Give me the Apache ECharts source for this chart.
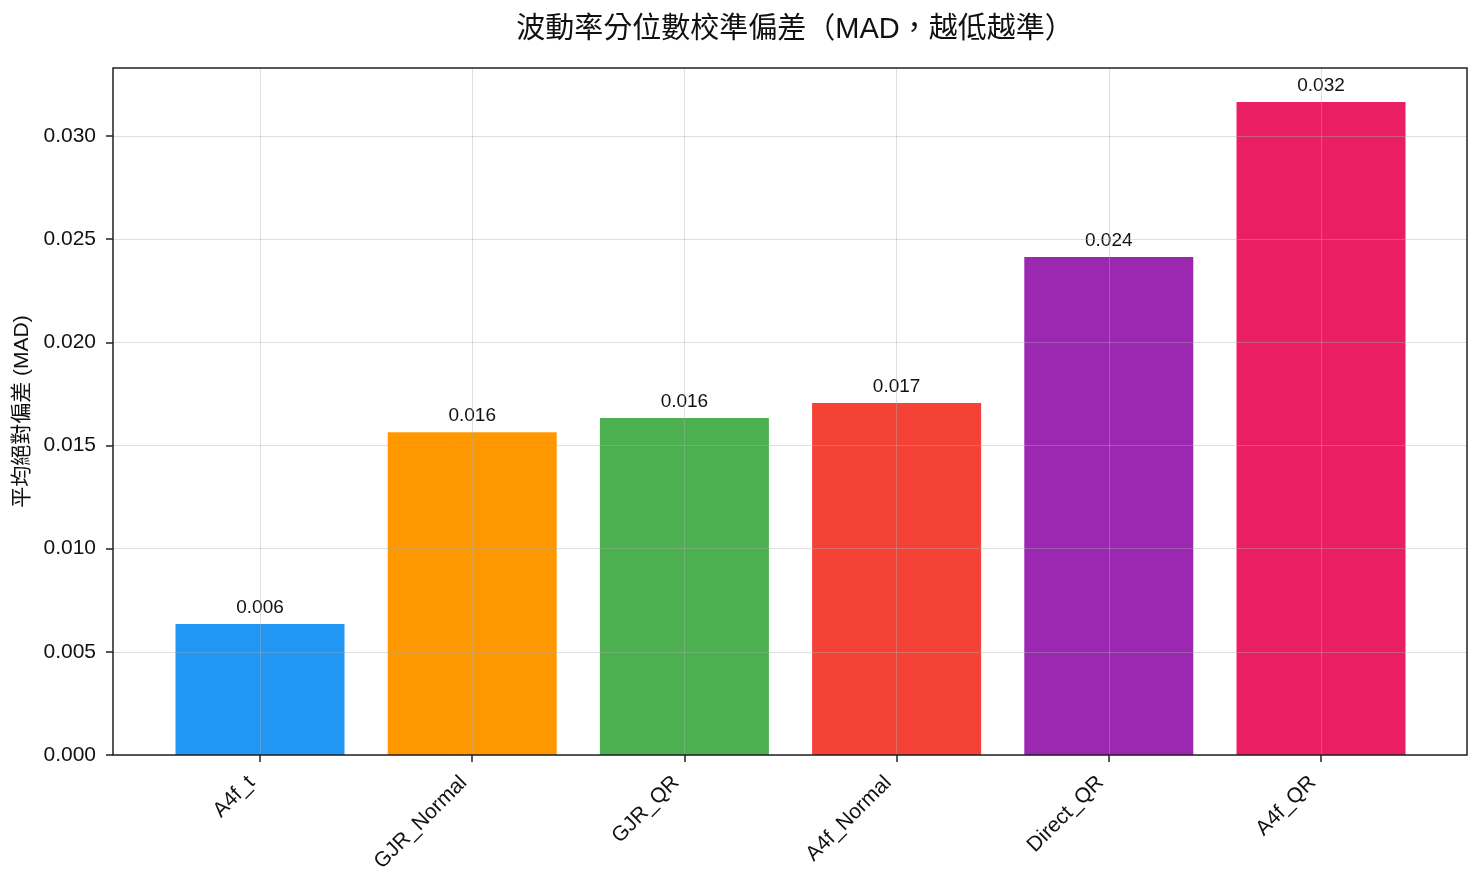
<!DOCTYPE html>
<html><head><meta charset="utf-8">
<script src="https://cdn.jsdelivr.net/npm/echarts@6/dist/echarts.min.js"></script>
<style>html,body{margin:0;padding:0;background:#fff}#c{width:1482px;height:883px}</style>
</head><body><div id="c"></div>
<script>
const categories = ['A4f_t', 'GJR_Normal', 'GJR_QR', 'A4f_Normal', 'Direct_QR', 'A4f_QR'];
const madValues = [0.00635, 0.01565, 0.01633, 0.01706, 0.02414, 0.03165];
const barColors = ['#2196F3', '#FF9800', '#4CAF50', '#F44336', '#9C27B0', '#E91E63'];
const yTicks = [0, 0.005, 0.010, 0.015, 0.020, 0.025, 0.030];
const titleText = '波動率分位數校準偏差（MAD，越低越準）';
const yName = '平均絕對偏差 (MAD)';

const FONT = '"Liberation Sans", "Noto Sans CJK TC", sans-serif';
const Y_MAX = 0.0333;
const gridColor = 'rgba(176,176,176,0.4)';
const ink = '#222';

const chart = echarts.init(document.getElementById('c'));
chart.setOption({
  animation: false,
  textStyle: { fontFamily: FONT },
  title: {
    text: titleText, left: 790, top: 10, textAlign: 'center',
    textStyle: { fontFamily: FONT, fontSize: 29, fontWeight: 'normal', color: '#111' }
  },
  grid: [
    { left: 113, right: 15, top: 68, bottom: 128, show: true, borderColor: ink, borderWidth: 1.5, backgroundColor: 'transparent', z: 4 },
    { left: 260, right: 161, top: 68, bottom: 128 }
  ],
  xAxis: [
    { gridIndex: 0, type: 'value', min: 0, max: 1, show: false },
    {
      gridIndex: 1, type: 'value', min: 0, max: categories.length - 1, interval: 1, z: 3,
      axisLine: { show: false },
      axisTick: { show: true, length: 7, lineStyle: { color: ink, width: 1.5 } },
      splitLine: { show: true, lineStyle: { color: gridColor, width: 1 } },
      axisLabel: {
        rotate: 45, margin: 16, fontSize: 21, color: '#111', fontFamily: FONT,
        padding: [0, 12, 0, 0],
        formatter: v => categories[Math.round(v)] || ''
      }
    }
  ],
  yAxis: [
    {
      gridIndex: 0, type: 'value', min: 0, max: Y_MAX, z: 3,
      name: yName, nameLocation: 'middle', nameGap: 80, nameRotate: 90,
      nameTextStyle: { fontSize: 21, color: '#111', fontFamily: FONT },
      axisLine: { show: false },
      axisTick: { show: true, length: 7, lineStyle: { color: ink, width: 1.5 }, customValues: yTicks },
      axisLabel: { fontSize: 21, color: '#111', margin: 17, fontFamily: FONT, customValues: yTicks, formatter: v => v.toFixed(3) },
      splitLine: { show: true, lineStyle: { color: gridColor, width: 1 } }
    },
    { gridIndex: 1, type: 'value', min: 0, max: Y_MAX, show: false, splitLine: { show: false } }
  ],
  series: [{
    type: 'bar', xAxisIndex: 1, yAxisIndex: 1, barWidth: 169, clip: false,
    data: madValues.map((v, i) => ({ value: [i, v], itemStyle: { color: barColors[i] } })),
    label: {
      show: true, position: 'top', distance: 7, fontSize: 19, color: '#111', fontFamily: FONT,
      formatter: p => p.value[1].toFixed(3)
    }
  }]
});
</script></body></html>
